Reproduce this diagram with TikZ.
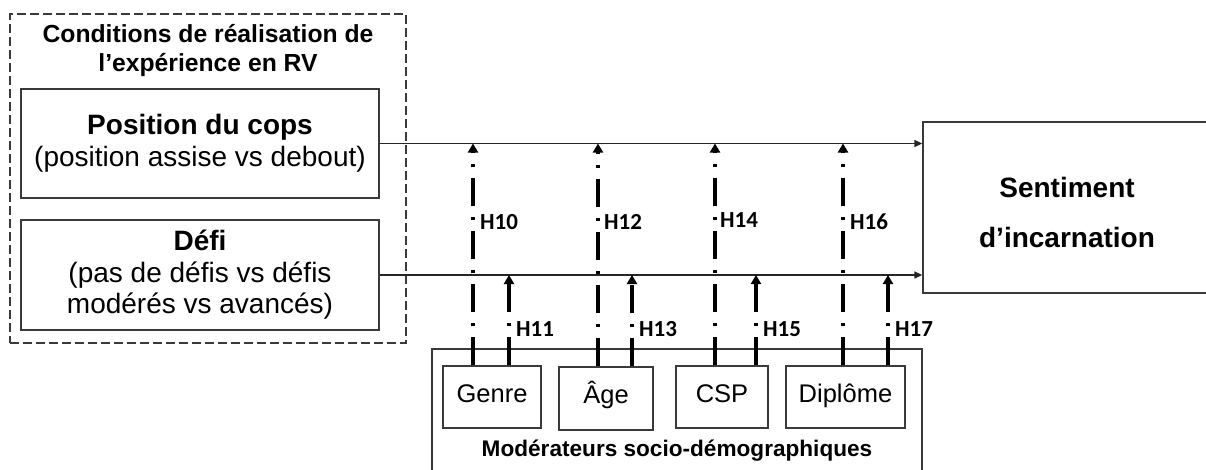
\documentclass[tikz,border=0pt]{standalone}
\usepackage{fontspec}
\setmainfont{Liberation Sans}
\newfontfamily\hfont{Carlito}
\usetikzlibrary{arrows.meta}
\definecolor{linegray}{HTML}{3A3A3A}
\begin{document}
\begin{tikzpicture}[x=1pt,y=-1pt,
  box/.style={draw=linegray,line width=1.3pt,inner sep=0pt,align=center},
  dashbox/.style={draw=linegray,line width=1.2pt,dash pattern=on 9pt off 4pt,inner sep=0pt},
  harrow/.style={draw=black!85,line width=1.4pt,-{Triangle[length=8pt,width=7pt]}},
  modline/.style={line width=3.5pt,dash pattern=on 28pt off 11pt on 3pt off 11pt,-{Triangle[length=9pt,width=10pt]}},
  hlab/.style={font=\hfont\bfseries\fontsize{23}{26}\selectfont,anchor=west,inner sep=0pt},
  bigtxt/.style={font=\fontsize{28}{31.5}\selectfont},
  modtxt/.style={font=\fontsize{25.5}{28}\selectfont,text height=17pt,text depth=7pt}
]
\useasboundingbox (0,0) rectangle (1206,469);
\fill[white] (0,0) rectangle (1206,469);

% left group
\node[dashbox,minimum width=396pt,minimum height=329pt] (cond) at (208,178.5) {};
\node[align=center,font=\bfseries\fontsize{24.7}{29}\selectfont,inner sep=0pt] (condt) at (208,51) {Conditions de réalisation de\\l’expérience en RV};
\node[box,bigtxt,minimum width=358pt,minimum height=109pt] (pos) at (200,143.5) {\textbf{Position du cops}\\(position assise vs debout)};
\node[box,bigtxt,minimum width=358pt,minimum height=110pt] (defi) at (200,275) {\textbf{Défi}\\(pas de défis vs défis\\modérés vs avancés)};

% outcome
\node[box,minimum width=288pt,minimum height=171pt] (sent) at (1067,207.5) {};
\node[align=center,font=\bfseries\fontsize{28}{50}\selectfont,inner sep=0pt] (sentt) at ([yshift=-5pt]sent.center) {Sentiment\\d’incarnation};

% moderators
\node[box,minimum width=490pt,minimum height=140pt] (mod) at (677,419) {};
\node[font=\bfseries\fontsize{22.6}{26}\selectfont,inner sep=0pt] (modt) at (677,451) {Modérateurs socio-démographiques};
\node[box,modtxt,minimum width=98pt,minimum height=62pt] (genre) at (492,397) {Genre};
\node[box,modtxt,minimum width=94pt,minimum height=63pt] (age) at (606,398.5) {Âge};
\node[box,modtxt,minimum width=92pt,minimum height=62pt] (csp) at (722,397) {CSP};
\node[box,modtxt,minimum width=119pt,minimum height=62pt] (dipl) at (845.5,397) {Diplôme};

% main arrows
\draw[harrow] (pos.east) -- (pos.east -| sent.west);
\draw[harrow] (defi.east) -- (defi.east -| sent.west);

% x positions of moderator arrows
\coordinate (xa) at (473,0);
\coordinate (xb) at (509,0);
\coordinate (xc) at (598,0);
\coordinate (xd) at (632,0);
\coordinate (xe) at (715,0);
\coordinate (xf) at (756,0);
\coordinate (xg) at (843,0);
\coordinate (xh) at (888,0);

\draw[modline] (genre.north -| xa) -- (pos.east -| xa);
\draw[modline] (genre.north -| xb) -- (defi.east -| xb);
\draw[modline] (age.north -| xc) -- (pos.east -| xc);
\draw[modline] (age.north -| xd) -- (defi.east -| xd);
\draw[modline] (csp.north -| xe) -- (pos.east -| xe);
\draw[modline] (csp.north -| xf) -- (defi.east -| xf);
\draw[modline] (dipl.north -| xg) -- (pos.east -| xg);
\draw[modline] (dipl.north -| xh) -- (defi.east -| xh);

% labels
\node[hlab] (h10) at (480,222) {H10};
\node[hlab] (h11) at (516,329) {H11};
\node[hlab] (h12) at (604,222) {H12};
\node[hlab] (h13) at (639,329) {H13};
\node[hlab] (h14) at (720,220) {H14};
\node[hlab] (h15) at (763,329) {H15};
\node[hlab] (h16) at (850,222) {H16};
\node[hlab] (h17) at (895,329) {H17};
\end{tikzpicture}
\end{document}
